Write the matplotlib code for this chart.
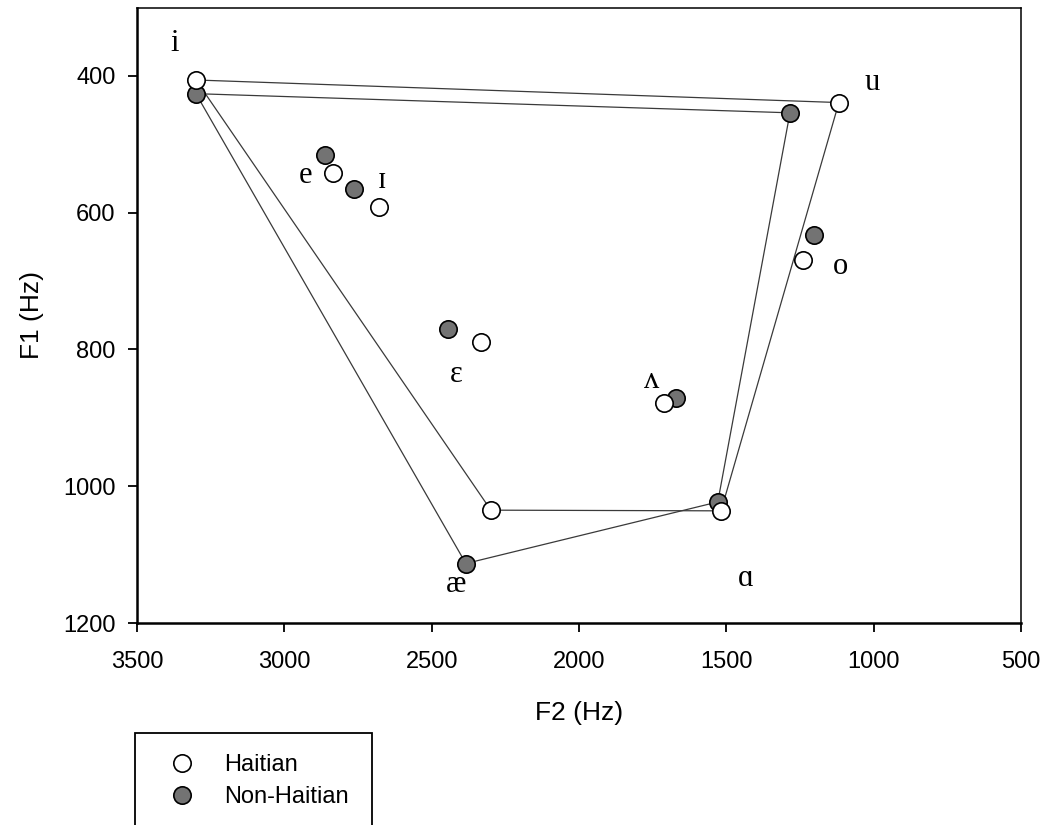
import matplotlib
matplotlib.use("Agg")
import matplotlib.pyplot as plt
from matplotlib.lines import Line2D
from matplotlib.patches import Rectangle

# Data (Hz)
vowels = ["i", "e", "ɪ", "ɛ", "ʌ", "æ", "ɑ", "o", "u"]
haitian_f2 = [3300, 2835, 2679, 2333, 1712, 2299, 1518, 1240, 1118]
haitian_f1 = [406, 542, 591, 789, 878, 1035, 1036, 669, 439]
nonhaitian_f2 = [3300, 2862, 2764, 2445, 1671, 2384, 1529, 1203, 1284]
nonhaitian_f1 = [426, 515, 565, 770, 871, 1113, 1023, 632, 454]

# Vowel label positions (F2, F1)
label_f2 = [3371, 2927, 2669, 2418, 1752, 2418, 1433, 1111, 1006]
label_f1 = [352, 545, 553, 836, 846, 1144, 1135, 679, 409]

# Polygon order (corner vowels)
corner = ["i", "u", "ɑ", "æ", "i"]

x_ticks = [3500, 3000, 2500, 2000, 1500, 1000, 500]
y_ticks = [400, 600, 800, 1000, 1200]

fig = plt.figure(figsize=(10.47, 8.25), dpi=100)
ax = fig.add_axes([137/1047, 1-623/825, (1021-137)/1047, (623-7.5)/825])

def poly(f2, f1):
    idx = [vowels.index(v) for v in corner]
    return [f2[k] for k in idx], [f1[k] for k in idx]

px, py = poly(haitian_f2, haitian_f1)
ax.plot(px, py, color="#3a3a3a", lw=0.9, zorder=2)
px, py = poly(nonhaitian_f2, nonhaitian_f1)
ax.plot(px, py, color="#3a3a3a", lw=0.9, zorder=2)

ms = 12.5
ax.plot(nonhaitian_f2, nonhaitian_f1, ls="none", marker="o", ms=ms,
        mfc="#737373", mec="black", mew=1.2, zorder=3)
ax.plot(haitian_f2, haitian_f1, ls="none", marker="o", ms=ms,
        mfc="white", mec="black", mew=1.2, zorder=3)

for v, lx, ly in zip(vowels, label_f2, label_f1):
    ax.text(lx, ly, v, fontsize=22, family="Liberation Serif",
            ha="center", va="center", zorder=4)

ax.set_xlim(3500, 500)
ax.set_ylim(1200, 300)
ax.set_xticks(x_ticks)
ax.set_yticks(y_ticks)
ax.tick_params(direction="out", length=6.5, width=1.3, labelsize=17,
               top=False, right=False)
ax.tick_params(axis="x", pad=14)
ax.tick_params(axis="y", pad=9)
for lab in ax.get_xticklabels() + ax.get_yticklabels():
    lab.set_family("Liberation Sans")
for s in ["left", "bottom"]:
    ax.spines[s].set_linewidth(1.8)
for s in ["top", "right"]:
    ax.spines[s].set_linewidth(1.1)

ax.set_xlabel("F2 (Hz)", fontsize=19, family="Liberation Sans", labelpad=20)
ax.set_ylabel("F1 (Hz)", fontsize=19, family="Liberation Sans", labelpad=14)

# Legend box (extends below figure edge)
rect = Rectangle((135/1047, -0.05), (372-135)/1047, 1-733/825 + 0.05,
                 transform=fig.transFigure, fill=False, ec="black", lw=1.3)
fig.patches.append(rect)
handles = [
    Line2D([], [], ls="none", marker="o", ms=ms, mfc="white", mec="black", mew=1.2),
    Line2D([], [], ls="none", marker="o", ms=ms, mfc="#737373", mec="black", mew=1.2),
]
fig.legend(handles, ["Haitian", "Non-Haitian"], loc="upper left",
           bbox_to_anchor=(156/1047, 1-742/825), frameon=False,
           prop={"family": "Liberation Sans", "size": 17},
           handletextpad=1.2, labelspacing=0.45, borderpad=0, handlelength=1.2)

fig.savefig("out.png", dpi=100)
